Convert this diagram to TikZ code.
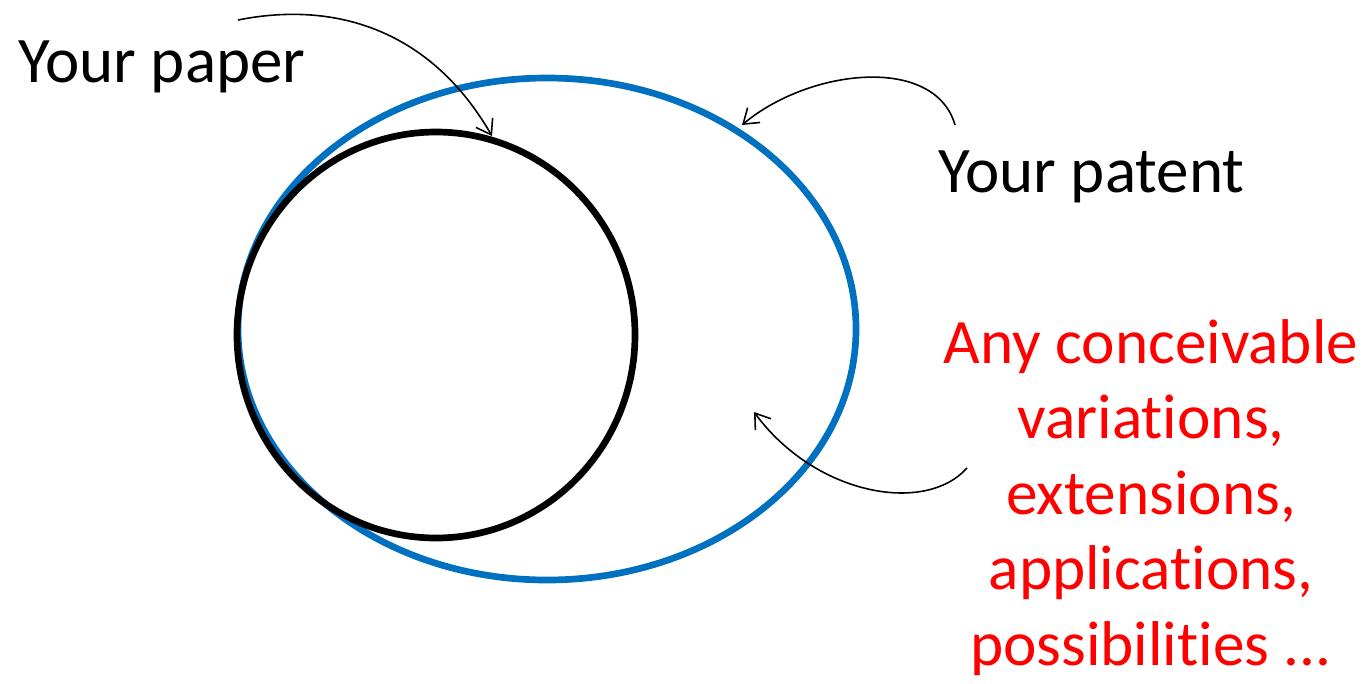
\documentclass[tikz,border=0pt]{standalone}
\usepackage{fontspec}
\setmainfont{Carlito}[RawFeature=-liga]
\usetikzlibrary{arrows.meta,positioning}
\definecolor{scopeblue}{RGB}{0,112,192}
\begin{document}
\begin{tikzpicture}[x=0.02cm, y=-0.02cm,
  lbl/.style={inner sep=0pt, font=\fontsize{37}{43}\selectfont},
  ring/.style={line width=3.8pt},
  pointer/.style={-{Straight Barb[length=8pt,width=11pt]}, line width=0.9pt}
]
  \useasboundingbox (0,0) rectangle (1368,683);
  % the two scopes
  \draw[ring, scopeblue] (547,329) ellipse [x radius=309, y radius=251];
  \draw[ring, black] (436,335) ellipse [x radius=199, y radius=203];
  % labels
  \node[lbl, anchor=base west] (paper) at (18,82) {Your paper};
  \node[lbl, anchor=base west] (patent) at (938,192) {Your patent};
  \node[lbl, anchor=north, align=center, text=red, font=\fontsize{36}{43}\selectfont]
    (extra) at (1151,319)
    {Any conceivable\\variations,\\extensions,\\applications,\\possibilities ...};
  % arrow ends
  \coordinate (paperfrom) at (238,20);  \coordinate (paperto) at (492,136);
  \coordinate (patentfrom) at (955,125); \coordinate (patentto) at (742,125);
  \coordinate (extrafrom) at (967,468);  \coordinate (extrato) at (754,412);
  \draw[pointer] (paperfrom) .. controls (338,0) and (432,32) .. (paperto);
  \draw[pointer] (patentfrom) .. controls (935,55) and (810,68) .. (patentto);
  \draw[pointer] (extrafrom) .. controls (925,515) and (815,495) .. (extrato);
\end{tikzpicture}
\end{document}
